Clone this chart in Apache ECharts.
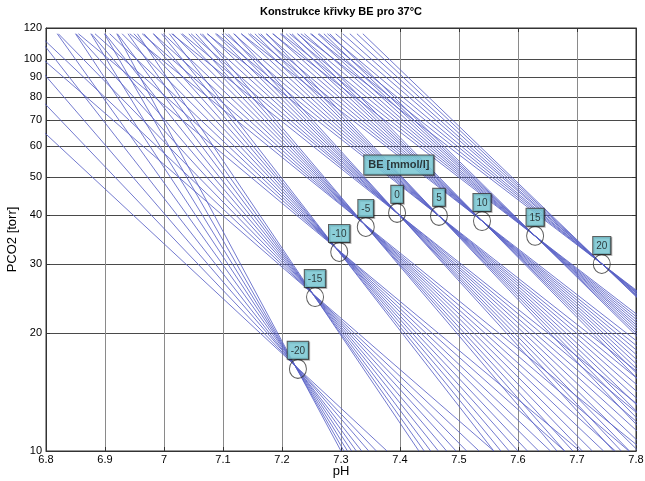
<!DOCTYPE html>
<html><head><meta charset="utf-8">
<script src="https://cdn.jsdelivr.net/npm/echarts@6/dist/echarts.min.js"></script>
<style>html,body{margin:0;padding:0;background:#fff}#c{width:645px;height:481px}</style>
</head><body><div id="c"></div>
<script>
// ---- data ----
const xTicks = [6.8, 6.9, 7.0, 7.1, 7.2, 7.3, 7.4, 7.5, 7.6, 7.7, 7.8];
const yTicks = [10, 20, 30, 40, 50, 60, 70, 80, 90, 100, 120];
const beValues = [-20, -15, -10, -5, 0, 5, 10, 15, 20];
const bePH   = [7.227, 7.256, 7.297, 7.342, 7.395, 7.466, 7.539, 7.629, 7.742];
const bePCO2 = [16.2, 24.7, 32.2, 37.3, 40.5, 39.8, 38.6, 35.4, 30.0];
const lineTopPCO2 = 116;
const lineBottomPCO2 = 10;
// pH where each buffer line starts (PCO2 = 116), one row per BE value
const fanTopPH = [
  [6.617, 6.685, 6.738, 6.782, 6.819, 6.850, 6.876, 6.899, 6.920],
  [6.745, 6.786, 6.821, 6.851, 6.877, 6.900, 6.921, 6.939, 6.955],
  [6.855, 6.883, 6.908, 6.929, 6.949, 6.966, 6.982, 6.996, 7.009],
  [6.942, 6.963, 6.982, 6.999, 7.015, 7.029, 7.042, 7.054, 7.065],
  [7.013, 7.031, 7.046, 7.061, 7.074, 7.087, 7.098, 7.109, 7.119],
  [7.073, 7.089, 7.104, 7.118, 7.131, 7.143, 7.154, 7.164, 7.174],
  [7.131, 7.146, 7.160, 7.173, 7.185, 7.197, 7.207, 7.217, 7.227],
  [7.184, 7.199, 7.213, 7.226, 7.238, 7.250, 7.261, 7.271, 7.281],
  [7.232, 7.248, 7.263, 7.277, 7.291, 7.303, 7.315, 7.327, 7.337]
];
// pH where each buffer line ends (PCO2 = 10); values beyond 7.8 are clipped by the axis
const fanBottomPH = [
  [7.378, 7.360, 7.347, 7.335, 7.326, 7.318, 7.311, 7.305, 7.300],
  [7.559, 7.534, 7.513, 7.495, 7.479, 7.465, 7.452, 7.441, 7.432],
  [7.705, 7.679, 7.655, 7.635, 7.616, 7.600, 7.585, 7.571, 7.559],
  [7.814, 7.788, 7.765, 7.745, 7.726, 7.709, 7.693, 7.679, 7.666],
  [7.902, 7.879, 7.858, 7.839, 7.821, 7.804, 7.789, 7.775, 7.762],
  [7.973, 7.952, 7.933, 7.915, 7.898, 7.883, 7.869, 7.856, 7.843],
  [8.041, 8.022, 8.005, 7.989, 7.974, 7.960, 7.947, 7.935, 7.923],
  [8.102, 8.086, 8.071, 8.057, 8.044, 8.032, 8.020, 8.009, 7.999],
  [8.157, 8.144, 8.132, 8.120, 8.110, 8.099, 8.090, 8.080, 8.072]
];
const beBoxText = 'BE [mmol/l]';
const beBoxPH = 7.398;
const beBoxPCO2 = 53.7;
const titleText = 'Konstrukce křivky BE pro 37°C';

// ---- chart ----
const FONT = '"Liberation Sans", Arial, Helvetica, sans-serif';
const lg = v => Math.log10(v);
const chart = echarts.init(document.getElementById('c'), null, {renderer: 'canvas'});

const series = [];
fanTopPH.forEach((tops, f) => {
  tops.forEach((t, k) => {
    series.push({
      type: 'line', silent: true, animation: false, clip: true, z: 2,
      symbol: 'none',
      lineStyle: {color: '#5a62c6', width: 0.85},
      data: [[t, lg(lineTopPCO2)], [fanBottomPH[f][k], lg(lineBottomPCO2)]]
    });
  });
});

series.push({
  type: 'scatter', silent: true, animation: false, z: 5,
  symbol: 'circle', symbolSize: [17, 19],
  itemStyle: {color: 'rgba(0,0,0,0)', borderColor: '#333', borderWidth: 1},
  data: bePH.map((p, i) => [p, lg(bePCO2[i])]),
  label: {
    show: true, position: 'top', distance: 0,
    formatter: p => String(beValues[p.dataIndex]),
    fontFamily: FONT, fontSize: 10, color: '#111',
    backgroundColor: '#7fd3e0', borderColor: '#333', borderWidth: 1,
    padding: [4, 3, 3, 3],
    shadowColor: 'rgba(0,0,0,0.35)', shadowOffsetX: 1, shadowOffsetY: 1
  }
});

series.push({
  type: 'scatter', silent: true, animation: false, z: 6,
  symbolSize: 0,
  data: [[beBoxPH, lg(beBoxPCO2)]],
  label: {
    show: true, position: 'inside',
    formatter: beBoxText,
    fontFamily: FONT, fontSize: 11, fontWeight: 'bold', color: '#111',
    backgroundColor: '#7fd3e0', borderColor: '#333', borderWidth: 1,
    padding: [4, 4, 4, 4],
    shadowColor: 'rgba(0,0,0,0.35)', shadowOffsetX: 1, shadowOffsetY: 1
  }
});

const axisCommon = {
  axisLine: {show: true, lineStyle: {color: '#333', width: 1}},
  axisTick: {show: true, inside: true, length: 4, lineStyle: {color: '#333'}},
};

chart.setOption({
  animation: false,
  backgroundColor: '#fff',
  grid: {left: 46, right: 9, top: 28, bottom: 30, containLabel: false, outerBoundsMode: 'none',
    show: true, borderColor: '#333', borderWidth: 1},
  graphic: [{
    type: 'text', x: 341, y: 12,
    style: {text: titleText, font: 'bold 11px ' + FONT, fill: '#000', align: 'center', verticalAlign: 'middle'}
  }],
  xAxis: [{
    type: 'value', min: 6.8, max: 7.8, interval: 0.1,
    name: 'pH', nameLocation: 'middle', nameGap: 14, nameMoveOverlap: false,
    nameTextStyle: {fontFamily: FONT, fontSize: 13, color: '#000'},
    axisLabel: {fontFamily: FONT, fontSize: 11, color: '#000', margin: 3,
      formatter: v => String(Math.round(v * 10) / 10)},
    splitLine: {show: true, lineStyle: {color: '#8a8a8a', width: 1}},
    ...axisCommon
  }, {
    type: 'value', min: 6.8, max: 7.8, interval: 0.1, position: 'top',
    axisLabel: {show: false}, splitLine: {show: false},
    ...axisCommon
  }],
  yAxis: [{
    type: 'value', min: lg(yTicks[0]), max: lg(yTicks[yTicks.length - 1]),
    name: 'PCO2 [torr]', nameLocation: 'middle', nameGap: 27, nameMoveOverlap: false,
    nameTextStyle: {fontFamily: FONT, fontSize: 13, color: '#000'},
    axisLabel: {fontFamily: FONT, fontSize: 11, color: '#000', margin: 4,
      customValues: yTicks.map(lg),
      formatter: v => String(Math.round(Math.pow(10, v)))},
    axisTick: {show: true, inside: true, length: 4, lineStyle: {color: '#333'}, customValues: yTicks.map(lg)},
    axisLine: {show: true, lineStyle: {color: '#333', width: 1}},
    splitLine: {show: true, lineStyle: {color: '#4a4a4a', width: 1}}
  }, {
    type: 'value', min: lg(yTicks[0]), max: lg(yTicks[yTicks.length - 1]), position: 'right',
    axisLabel: {show: false}, splitLine: {show: false},
    axisTick: {show: true, inside: true, length: 4, lineStyle: {color: '#333'}, customValues: yTicks.map(lg)},
    axisLine: {show: true, lineStyle: {color: '#333', width: 1}}
  }],
  series: series
});
</script>
</body></html>
